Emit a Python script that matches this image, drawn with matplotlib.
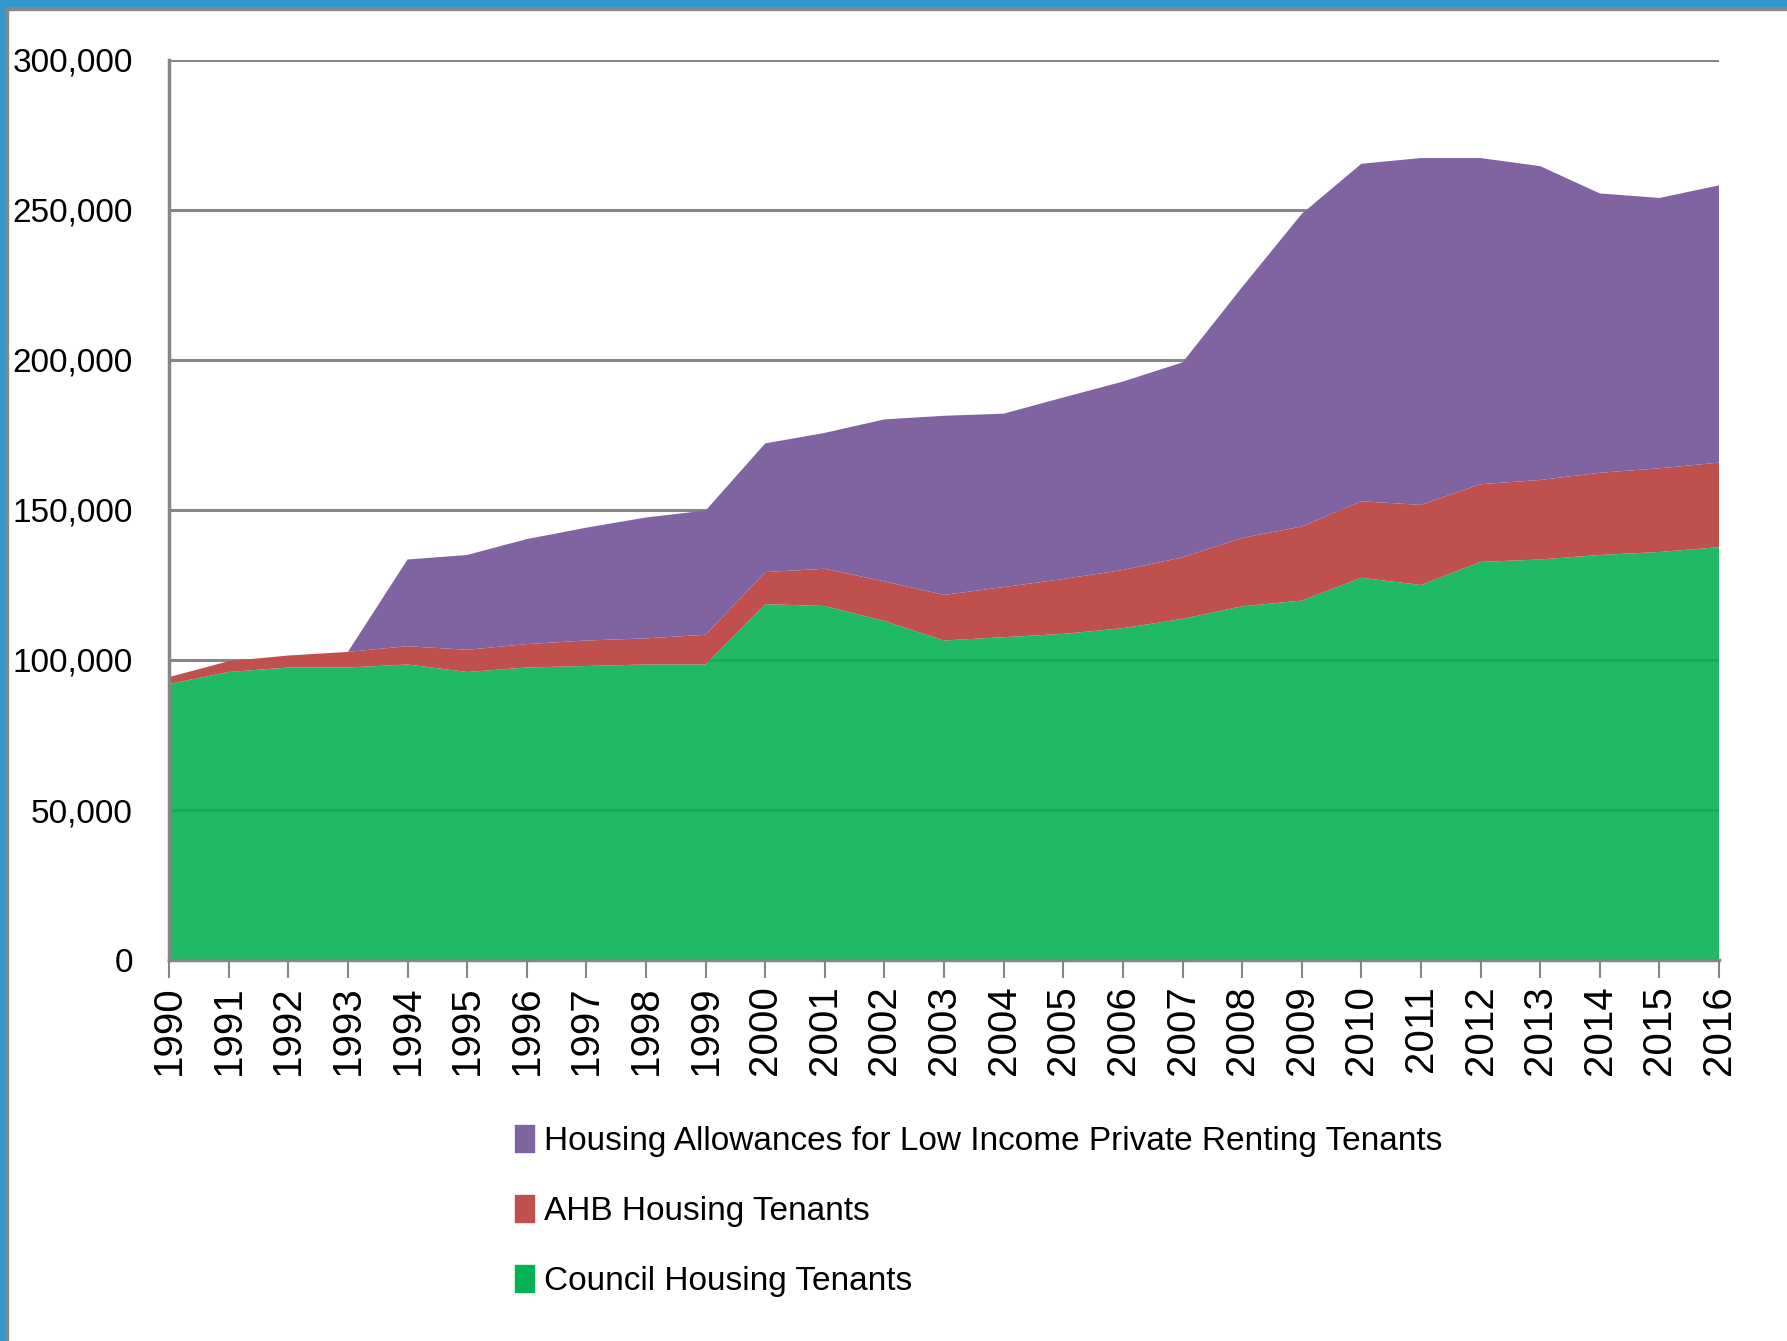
from matplotlib import pyplot as plt
from matplotlib.patches import Rectangle, Patch
from matplotlib.ticker import FuncFormatter

years = list(range(1990, 2017))

# stacked totals
council = [92000, 96000, 97500, 97500, 98500, 96000, 97500, 98000, 98500, 98500,
           118600, 118000, 113000, 106500, 107600, 108700, 110600, 113700, 117900, 119800,
           127400, 125000, 132700, 133500, 135000, 136000, 137600]
ahb_top = [94300, 99600, 101500, 102700, 104600, 103400, 105300, 106500, 107200, 108400,
           129300, 130400, 126200, 121700, 124300, 127000, 130000, 134200, 140700, 144500,
           152900, 151700, 158600, 160000, 162400, 163900, 165800]
allow_top = [None, None, None, 102700, 133500, 135000, 140300, 144100, 147500, 149800,
             172200, 175700, 180200, 181400, 182100, 187500, 192800, 199200, 224300, 248700,
             265400, 267300, 267300, 264600, 255500, 254000, 258200]

ahb = [t - c for t, c in zip(ahb_top, council)]
allowances = [0 if a is None else a - t for a, t in zip(allow_top, ahb_top)]

labels = ['Council Housing Tenants', 'AHB Housing Tenants',
          'Housing Allowances for Low Income Private Renting Tenants']
colors = ['#07B255', '#C0504D', '#8064A2']

plt.rcParams['font.family'] = ['Liberation Sans', 'DejaVu Sans']

fig = plt.figure(figsize=(17.87, 13.41), dpi=100)

# frame strips at top and left
fig.patches.append(Rectangle((0, 1 - 6 / 1341), 1, 6 / 1341, transform=fig.transFigure,
                             color='#3399CC', zorder=10))
fig.patches.append(Rectangle((0, 1 - 10 / 1341), 1, 4 / 1341, transform=fig.transFigure,
                             color='#888888', zorder=9))
fig.patches.append(Rectangle((0, 0), 5 / 1787, 1, transform=fig.transFigure,
                             color='#3399CC', zorder=10))
fig.patches.append(Rectangle((5 / 1787, 0), 3 / 1787, 1 - 6 / 1341, transform=fig.transFigure,
                             color='#888888', zorder=9))

ax = fig.add_axes([0.0946, 0.2841, 0.8674, 0.6712])
polys = ax.stackplot(years, council, ahb, allowances, colors=colors, zorder=2)
polys[0].set_alpha(0.9)

ax.set_xlim(1990, 2016)
ax.set_ylim(0, 300000)
ax.set_yticks(range(0, 300001, 50000))
ax.yaxis.set_major_formatter(FuncFormatter(lambda v, p: f'{int(v):,}'))
ax.set_xticks(years)
ax.set_xticklabels([str(y) for y in years], rotation=90)
ax.grid(True, axis='y', color='#868686', linewidth=2.2, zorder=1)
ax.set_axisbelow(True)

for s in ['top', 'right']:
    ax.spines[s].set_visible(False)
for s in ['left', 'bottom']:
    ax.spines[s].set_color('#868686')
    ax.spines[s].set_linewidth(2.5)
ax.tick_params(axis='y', length=0, pad=26, labelsize=24)
ax.tick_params(axis='x', length=13, width=1.5, color='#868686', direction='out',
               pad=5, labelsize=29)

handles = [Patch(color=colors[i]) for i in (2, 1, 0)]
fig.legend(handles, [labels[i] for i in (2, 1, 0)], loc='upper left',
           bbox_to_anchor=(0.288, 0.161), frameon=False, fontsize=24,
           handlelength=0.57, handleheight=0.85, handletextpad=0.3,
           labelspacing=1.15, borderpad=0, borderaxespad=0)

plt.savefig('out.png', dpi=100)
